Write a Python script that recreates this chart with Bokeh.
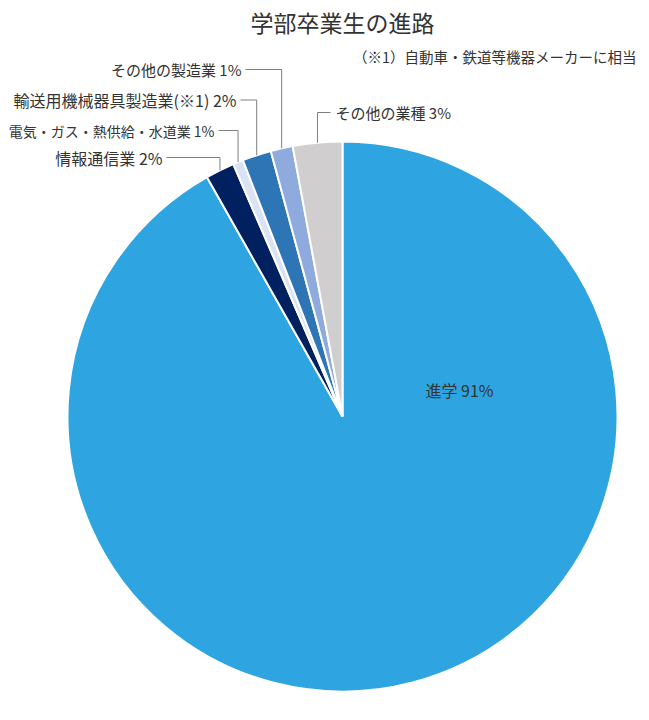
import math
from bokeh.plotting import figure
from bokeh.models import Range1d, ColumnDataSource
from bokeh.core.properties import value
from bokeh.embed import file_html
from bokeh.resources import INLINE

# ---- data ----
categories = ["進学", "情報通信業", "電気・ガス・熱供給・水道業", "輸送用機械器具製造業(※1)", "その他の製造業", "その他の業種"]
shares = [91.8, 1.7, 0.6, 1.7, 1.3, 2.9]
pct_labels = ["91%", "2%", "1%", "2%", "1%", "3%"]
colors = ["#2EA5E0", "#002060", "#DAE3F3", "#2E75B6", "#8FAADC", "#D0CECE"]
title_text = "学部卒業生の進路"
note_text = "（※1）自動車・鉄道等機器メーカーに相当"

W, H = 649, 720
FONT = "Noto Sans CJK JP"
TXT = "#333333"

def sy(py):  # screenshot y -> data y
    return H - py

def sx(px):
    return px

p = figure(width=W, height=H, output_backend="svg", toolbar_location=None,
           x_range=Range1d(0, W), y_range=Range1d(0, H), min_border=0)
p.axis.visible = False
p.grid.visible = False
p.outline_line_color = None
p.background_fill_color = "white"

cx, cy, r = sx(342), sy(416), 275

total = sum(shares)
starts, ends, mids = [], [], []
cum = 0.0
for v in shares:
    a0 = math.pi / 2 - 2 * math.pi * cum / total
    cum += v
    a1 = math.pi / 2 - 2 * math.pi * cum / total
    starts.append(a0)
    ends.append(a1)
    mids.append((a0 + a1) / 2)

src = ColumnDataSource(dict(start=starts, end=ends, color=colors))
p.wedge(x=cx, y=cy, radius=r, start_angle="start", end_angle="end", direction="clock",
        fill_color="color", line_color="white", line_width=2, source=src)

# title and note
p.text(x=[sx(342)], y=[sy(21)], text=[title_text], text_font=value(FONT), text_font_size="23px",
       text_align="center", text_baseline="middle", text_color=TXT)
p.text(x=[sx(636)], y=[sy(56)], text=[note_text], text_font=value(FONT), text_font_size="14.5px",
       text_align="right", text_baseline="middle", text_color=TXT)

# inside label for 進学
p.text(x=[sx(459)], y=[sy(389)], text=[categories[0] + " " + pct_labels[0]], text_font=value(FONT),
       text_font_size="16px", text_align="center", text_baseline="middle", text_color=TXT)

# leader-line labels: (index, label screen y, text end x, side, font size)
label_layout = [
    (1, 157, 162, "left", "16px"),
    (2, 130, 214, "left", "14px"),
    (3, 99.5, 236, "left", "16px"),
    (4, 69, 241, "left", "15px"),
    (5, 112, 335, "right", "15px"),
]
for i, ly, tx, side, fs in label_layout:
    ex = cx + r * math.cos(mids[i])
    ey = cy + r * math.sin(mids[i])
    lyd = sy(ly)
    if side == "left":
        hx = sx(tx) + 4
        align = "right"
    else:
        hx = sx(tx) - 5
        align = "left"
    p.line(x=[hx, ex, ex], y=[lyd, lyd, ey], line_color="#7F7F7F", line_width=1)
    p.text(x=[sx(tx)], y=[lyd], text=[categories[i] + " " + pct_labels[i]], text_font=value(FONT),
           text_font_size=fs, text_align=align, text_baseline="middle", text_color=TXT)

open("out.html", "w").write(file_html(p, INLINE))
